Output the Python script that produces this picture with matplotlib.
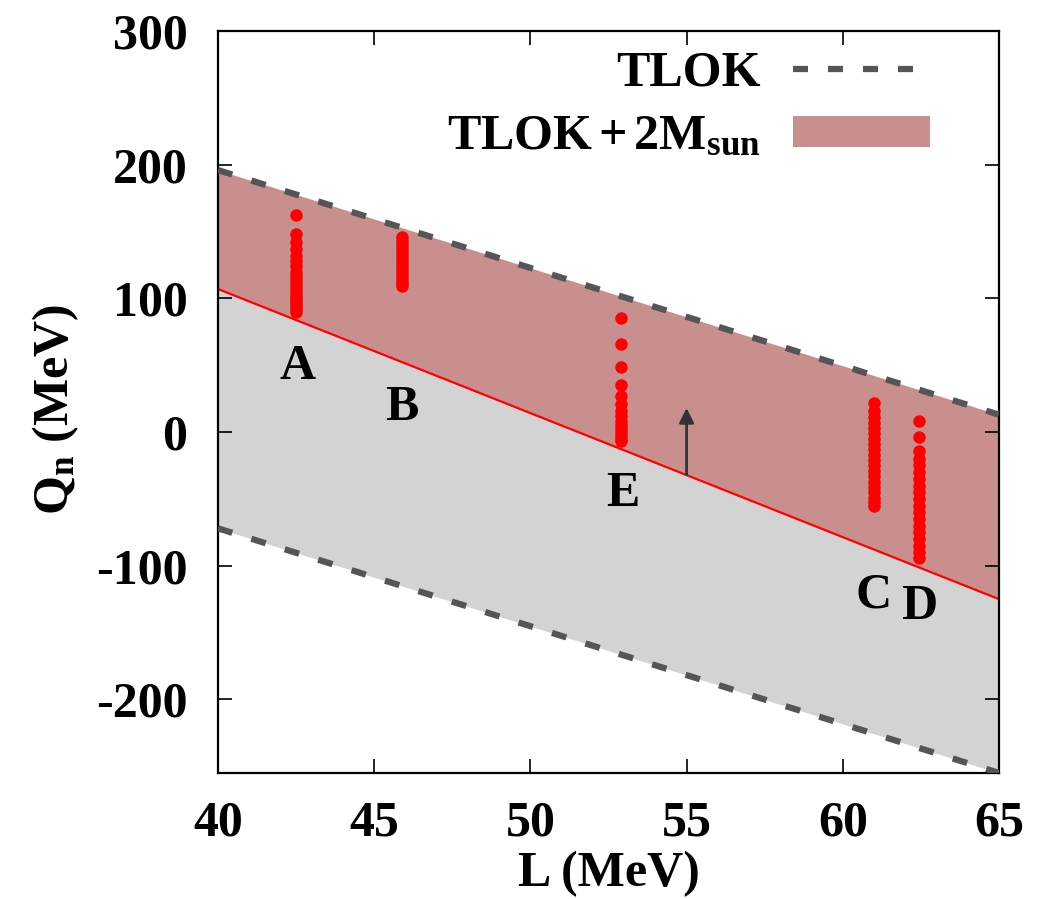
import matplotlib
matplotlib.use("Agg")
import matplotlib.pyplot as plt
from matplotlib.lines import Line2D
from matplotlib.patches import Patch

plt.rcParams["font.family"] = "Liberation Serif"
plt.rcParams["font.weight"] = "bold"
plt.rcParams["axes.labelweight"] = "bold"
plt.rcParams["axes.unicode_minus"] = False
plt.rcParams["mathtext.fontset"] = "custom"
plt.rcParams["mathtext.rm"] = "Liberation Serif:bold"
plt.rcParams["mathtext.bf"] = "Liberation Serif:bold"
plt.rcParams["mathtext.it"] = "Liberation Serif:bold"

# band edges (Q_n vs L) at the ends of the L range
L_edges = [40, 65]
tlok_upper = [196, 13]
tlok_lower = [-72, -255]
tlok_2msun = [107, -125]

# model points: one column per parameter set
sets = ["A", "B", "E", "C", "D"]
set_L = [42.5, 45.9, 52.9, 61.0, 62.45]
set_Q = {
    "A": [162, 148, 142, 137, 132, 128, 124, 120, 117, 114, 111, 108, 105,
          102, 100, 98, 96, 94, 92, 90],
    "B": [146, 143, 140, 137, 134, 131, 128, 125, 122, 119, 116, 113, 111,
          109],
    "E": [85, 66, 49, 35, 27, 21, 16, 12, 8, 5, 2, -1, -3, -5, -7],
    "C": [22, 16, 11, 7, 3, -1, -5, -9, -13, -17, -21, -25, -29, -33, -37,
          -41, -45, -49, -52, -55],
    "D": [8, -4, -14, -20, -25, -30, -35, -40, -45, -50, -55, -60, -65, -70,
          -75, -80, -85, -90, -94],
}
# label anchors for each column
label_L = [42.55, 45.9, 52.95, 61.0, 62.45]
label_Q = [49, 18, -46, -122, -131]

# arrow pointing into the allowed band
arrow_L = 55
arrow_Q = [-32, 18]

pink = "#c98f8f"
gray = "#d3d3d3"
dash_col = "#555555"

fig = plt.figure(figsize=(10.51, 8.99), dpi=100)
ax = fig.add_axes([0.2074, 0.1402, 0.7431, 0.8253])

ax.fill_between(L_edges, tlok_lower, tlok_2msun, color=gray, lw=0, zorder=1)
ax.fill_between(L_edges, tlok_2msun, tlok_upper, color=pink, lw=0, zorder=1)
ax.plot(L_edges, tlok_2msun, color="red", lw=1.6, zorder=2)
dash = (0, (2.4, 3.2))
ax.plot(L_edges, tlok_upper, color=dash_col, lw=4.5, ls=dash,
        dash_capstyle="butt", zorder=3)
ax.plot(L_edges, tlok_lower, color=dash_col, lw=4.5, ls=dash,
        dash_capstyle="butt", zorder=3)

for name, L in zip(sets, set_L):
    q = set_Q[name]
    ax.plot([L] * len(q), q, "o", color="red", ms=9, mew=0, zorder=4)

for name, L, Q in zip(sets, label_L, label_Q):
    ax.text(L, Q, name, fontsize=36, ha="center", va="center", zorder=5)

ax.annotate("", xy=(arrow_L, arrow_Q[1]), xytext=(arrow_L, arrow_Q[0]),
            arrowprops=dict(arrowstyle="-|>", color="#333333", lw=2,
                            mutation_scale=22, shrinkA=0, shrinkB=0),
            zorder=5)

ax.set_xlim(40, 65)
ax.set_ylim(-255, 300)
ax.set_xticks([40, 45, 50, 55, 60, 65])
ax.set_yticks([-200, -100, 0, 100, 200, 300])
ax.tick_params(direction="in", length=10, width=1.2, top=True, right=True,
               labelsize=36)
ax.tick_params(axis="x", pad=20)
ax.tick_params(axis="y", pad=22)
for s in ax.spines.values():
    s.set_linewidth(1.6)

ax.set_xlabel("L (MeV)", fontsize=36)
ax.set_ylabel("Q$_\\mathrm{n}$ (MeV)", fontsize=36)
ax.xaxis.set_label_coords(0.5, -0.105)
ax.yaxis.set_label_coords(-0.176, 0.49)

handles = [
    Line2D([], [], color=dash_col, lw=4.5, ls=dash, dash_capstyle="butt"),
    Patch(facecolor=pink, edgecolor="none"),
]
labels = ["TLOK", "TLOK$\\,$+$\\,$2M$_{\\mathrm{sun}}$"]
ax.legend(handles, labels, loc="upper right",
          bbox_to_anchor=(0.925, 0.987), frameon=False, markerfirst=False,
          fontsize=36, handlelength=2.75, handleheight=0.6,
          handletextpad=0.65, labelspacing=0.35, borderpad=0.2,
          borderaxespad=0)

fig.savefig("out.png", dpi=100)
